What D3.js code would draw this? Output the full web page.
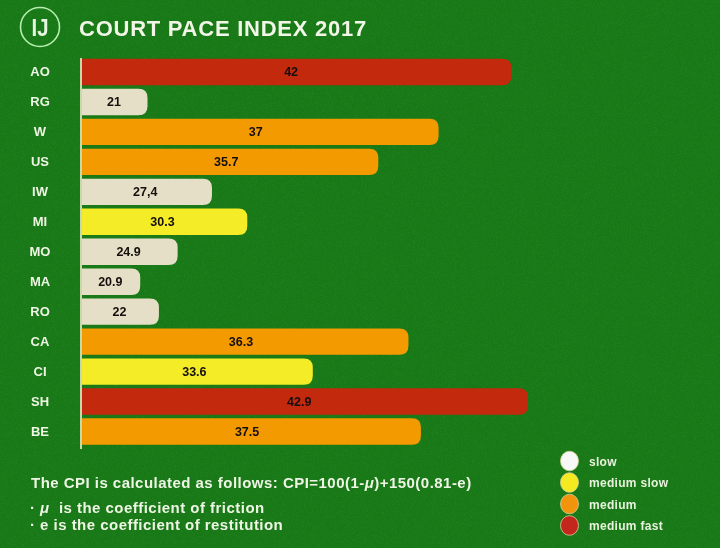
<!DOCTYPE html>
<html><head><meta charset="utf-8">
<script src="https://cdn.jsdelivr.net/npm/d3@7/dist/d3.min.js"></script>
<style>html,body{margin:0;padding:0;background:#187716}svg{display:block}text{font-family:"Liberation Sans",Arial,sans-serif;font-weight:700}</style>
</head><body><div id="c"></div>
<script>
const categories=["AO","RG","W","US","IW","MI","MO","MA","RO","CA","CI","SH","BE"];
const valueLabels=["42","21","37","35.7","27,4","30.3","24.9","20.9","22","36.3","33.6","42.9","37.5"];
// The reference's bars are not proportional to their printed values, so drawn lengths are read separately.
const drawnLengths=[41.3,6.3,34.3,28.5,12.5,15.9,9.2,5.6,7.4,31.4,22.2,42.9,32.6];
const classes=["medium fast","slow","medium","medium","slow","medium slow","slow","slow","slow","medium","medium slow","medium fast","medium"];
const legendNames=["slow","medium slow","medium","medium fast"];
const barColors=["#e6dfc8","#f4ec27","#f39a05","#c32a10"];
const legendColors=["#f8f8f6","#f5ea20","#f3940f","#c3281a"];
const noteLines=["The CPI is calculated as follows: CPI=100(1-μ)+150(0.81-e)","· μ  is the coefficient of friction","· e is the coefficient of restitution"];

const W=720,H=548;
const svg=d3.select("#c").append("svg").attr("width",W).attr("height",H);
const defs=svg.append("defs");
const grain=defs.append("filter").attr("id","grain").attr("x",0).attr("y",0).attr("width","100%").attr("height","100%");
grain.append("feTurbulence").attr("type","fractalNoise").attr("baseFrequency",1.1).attr("numOctaves",2).attr("seed",4);
grain.append("feColorMatrix").attr("values","0 0 0 0 0.04  0 0 0 0 0.36  0 0 0 0 0.04  0 0 0 1.2 -0.5");
const soft=defs.append("filter").attr("id","soft");
soft.append("feGaussianBlur").attr("stdDeviation",0.35);

svg.append("rect").attr("width",W).attr("height",H).attr("fill","#187716");
svg.append("rect").attr("width",W).attr("height",H).attr("filter","url(#grain)").attr("opacity",0.5);

const x=d3.scaleLinear().domain([0,42.9]).range([82,528]);
const y=d3.scaleBand().domain(categories).range([57,446.5]).paddingInner(0.12).paddingOuter(0.06);
const color=d3.scaleOrdinal().domain(legendNames).range(barColors);
const legendColor=d3.scaleOrdinal().domain(legendNames).range(legendColors);
const root=svg.append("g").attr("filter","url(#soft)");

// logo
root.append("circle").attr("cx",40).attr("cy",27).attr("r",19.5).attr("fill","none").attr("stroke","#b6eeb0").attr("stroke-width",1.6);
root.append("text").attr("x",40).attr("y",35.5).attr("text-anchor","middle").attr("font-size",24).attr("fill","#e6f5e0").attr("textLength",17).attr("lengthAdjust","spacingAndGlyphs").text("IJ");
root.append("text").attr("x",79).attr("y",35.5).attr("font-size",22).attr("letter-spacing",0.75).attr("fill","#f1f6e6").text("COURT PACE INDEX 2017");

// bars
const r=9;
root.selectAll("path.bar").data(categories).join("path").attr("class","bar")
 .attr("fill",(d,i)=>color(classes[i]))
 .attr("d",(d,i)=>{const x0=x(0),x1=x(drawnLengths[i]),t=y(d),b=t+y.bandwidth();
   return `M${x0},${t}H${x1-r}Q${x1},${t} ${x1},${t+r}V${b-r}Q${x1},${b} ${x1-r},${b}H${x0}Z`;});
root.selectAll("text.val").data(categories).join("text").attr("class","val")
 .attr("x",(d,i)=>x(drawnLengths[i]*0.487))
 .attr("y",d=>y(d)+y.bandwidth()/2+4.5).attr("text-anchor","middle")
 .attr("font-size",12.5).attr("fill","#140f0c").text((d,i)=>valueLabels[i]);

// category axis
const axis=d3.axisLeft(y).tickSize(0).tickPadding(41);
const ga=root.append("g").attr("transform",`translate(81,0)`).call(axis);
ga.select(".domain").attr("stroke","#f5f1cf").attr("stroke-width",1.6).attr("d","M0,58V449");
ga.selectAll("text").attr("font-size",13).attr("fill","#eef5e4").attr("font-family",'"Liberation Sans"').attr("font-weight",700).attr("text-anchor","middle");

// notes
const ny=[488,513,530];
const notes=root.selectAll("text.note").data(noteLines).join("text").attr("class","note")
 .attr("x",(d,i)=>i?30:31).attr("y",(d,i)=>ny[i]).attr("font-size",15).attr("letter-spacing",0.47).attr("fill","#eef5e4").attr("xml:space","preserve");
notes.each(function(d){
  const t=d3.select(this);
  d.split(/(μ)/).forEach(s=>t.append("tspan").style("font-style",s==="μ"?"italic":"normal").text(s));
});

// legend
const ly=d3.scalePoint().domain(legendNames).range([461,525.5]);
root.selectAll("ellipse.lg").data(legendNames).join("ellipse").attr("class","lg")
 .attr("cx",569.5).attr("cy",d=>ly(d)).attr("rx",9).attr("ry",9.8)
 .attr("fill",d=>legendColor(d)).attr("stroke","#d8cf9a").attr("stroke-width",0.8);
root.selectAll("text.lt").data(legendNames).join("text").attr("class","lt")
 .attr("x",589).attr("y",d=>ly(d)+4.5).attr("font-size",12).attr("letter-spacing",0.3).attr("fill","#e8f2dc").text(d=>d);
</script></body></html>
